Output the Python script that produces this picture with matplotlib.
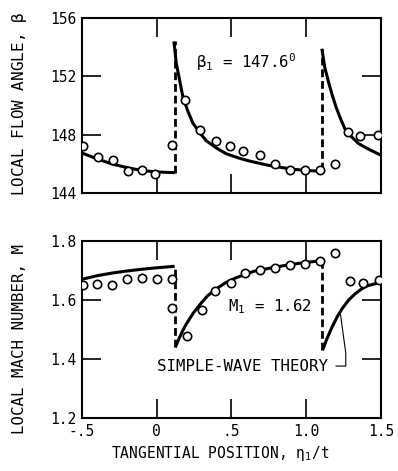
import matplotlib
matplotlib.use("Agg")
import matplotlib.pyplot as plt

# measured flow angle (deg) vs tangential position
beta_x = [-0.49, -0.39, -0.29, -0.19, -0.10, -0.01, 0.10, 0.19, 0.29, 0.40,
          0.49, 0.58, 0.69, 0.79, 0.89, 0.99, 1.09, 1.19, 1.28, 1.36, 1.48]
beta_y = [147.2, 146.5, 146.3, 145.5, 145.6, 145.3, 147.3, 150.4, 148.3, 147.6,
          147.2, 146.9, 146.6, 146.0, 145.6, 145.6, 145.6, 146.0, 148.2, 147.9, 148.0]

# simple-wave theory, flow angle
beta_th1_x = [-0.5, -0.4, -0.3, -0.2, -0.1, 0.0, 0.12]
beta_th1_y = [146.75, 146.35, 146.0, 145.75, 145.55, 145.45, 145.4]
beta_th2_x = [0.115, 0.131, 0.153, 0.175, 0.209, 0.242, 0.287, 0.331, 0.398, 0.465,
              0.55, 0.62, 0.75, 0.9, 1.0, 1.1]
beta_th2_y = [154.4, 152.9, 151.75, 150.6, 149.6, 148.8, 148.15, 147.6, 147.1, 146.7,
              146.4, 146.2, 145.9, 145.65, 145.55, 145.5]
beta_th3_x = [1.105, 1.125, 1.15, 1.175, 1.2, 1.23, 1.26, 1.3, 1.35, 1.42, 1.5]
beta_th3_y = [153.9, 152.6, 151.6, 150.7, 149.9, 149.1, 148.4, 147.9, 147.4, 147.0, 146.6]
beta_jump_x = [0.12, 1.105]
beta_jump_lo = [145.4, 145.6]
beta_jump_hi = [154.4, 153.9]

# measured Mach number
mach_x = [-0.49, -0.40, -0.30, -0.20, -0.10, 0.0, 0.10, 0.10, 0.20, 0.30, 0.39,
          0.50, 0.59, 0.69, 0.79, 0.89, 0.99, 1.09, 1.19, 1.29, 1.38, 1.49]
mach_y = [1.651, 1.654, 1.649, 1.670, 1.673, 1.670, 1.672, 1.573, 1.478, 1.565, 1.632,
          1.658, 1.692, 1.702, 1.707, 1.719, 1.722, 1.732, 1.758, 1.665, 1.659, 1.668]

# simple-wave theory, Mach number
mach_th1_x = [-0.5, -0.4, -0.3, -0.2, -0.1, 0.0, 0.12]
mach_th1_y = [1.670, 1.682, 1.691, 1.698, 1.704, 1.709, 1.714]
mach_th2_x = [0.125, 0.15, 0.175, 0.2, 0.245, 0.29, 0.34, 0.4, 0.46, 0.53, 0.65, 0.8, 0.95, 1.1]
mach_th2_y = [1.44, 1.47, 1.497, 1.52, 1.556, 1.585, 1.614, 1.638, 1.658, 1.675, 1.697, 1.712, 1.724, 1.733]
mach_th3_x = [1.11, 1.14, 1.175, 1.21, 1.24, 1.285, 1.33, 1.37, 1.41, 1.5]
mach_th3_y = [1.43, 1.47, 1.51, 1.545, 1.57, 1.6, 1.622, 1.637, 1.648, 1.66]
mach_jump_x = [0.12, 1.108]
mach_jump_lo = [1.44, 1.43]
mach_jump_hi = [1.714, 1.733]

x_ticks = [-0.5, 0, 0.5, 1.0, 1.5]
x_ticklabels = ['-.5', '0', '.5', '1.0', '1.5']
beta_ticks = [144, 148, 152, 156]
mach_ticks = [1.2, 1.4, 1.6, 1.8]
mach_ticklabels = ['1.2', '1.4', '1.6', '1.8']

plt.rcParams['font.family'] = ['DejaVu Sans Mono', 'DejaVu Sans']
plt.rcParams['mathtext.fontset'] = 'custom'
plt.rcParams['mathtext.rm'] = 'DejaVu Sans Mono'
plt.rcParams['mathtext.it'] = 'DejaVu Sans Mono'

fig = plt.figure(figsize=(3.98, 4.71), dpi=100)
ax1 = fig.add_axes([0.206, 0.590, 0.751, 0.3716])
ax2 = fig.add_axes([0.206, 0.1125, 0.751, 0.376])

mk = dict(marker='o', ms=6, mfc='white', mec='black', mew=1.2, ls='none', zorder=3)
th = dict(color='black', lw=2.2, solid_capstyle='butt')
dash = dict(color='black', lw=2.0, ls=(0, (2.8, 1.4)))

# top panel
for xs, ys in [(beta_th1_x, beta_th1_y), (beta_th2_x, beta_th2_y), (beta_th3_x, beta_th3_y)]:
    ax1.plot(xs, ys, **th)
for x, lo, hi in zip(beta_jump_x, beta_jump_lo, beta_jump_hi):
    ax1.plot([x, x], [lo, hi], **dash)
ax1.plot(beta_x, beta_y, **mk)
ax1.text(0.265, 153.0, r'$\beta_1$ = 147.6$^0$', fontsize=11.3, va='center', ha='left')

# bottom panel
for xs, ys in [(mach_th1_x, mach_th1_y), (mach_th2_x, mach_th2_y), (mach_th3_x, mach_th3_y)]:
    ax2.plot(xs, ys, **th)
for x, lo, hi in zip(mach_jump_x, mach_jump_lo, mach_jump_hi):
    ax2.plot([x, x], [lo, hi], **dash)
ax2.plot(mach_x, mach_y, **mk)
ax2.text(1.04, 1.576, r'M$_1$ = 1.62', fontsize=11.3, va='center', ha='right')
ax2.text(0.005, 1.376, 'SIMPLE-WAVE THEORY', fontsize=11.3, va='center', ha='left')
ax2.plot([1.20, 1.265, 1.265, 1.23], [1.376, 1.376, 1.42, 1.55], color='black', lw=0.8)

for ax in (ax1, ax2):
    ax.set_xlim(-0.5, 1.5)
    ax.set_xticks(x_ticks)
    ax.tick_params(direction='in', length=14, width=1.2, top=True, right=True,
                   labelsize=10.5, pad=4)
    for sp in ax.spines.values():
        sp.set_linewidth(1.5)

ax1.set_ylim(144, 156)
ax1.set_yticks(beta_ticks)
ax1.set_xticklabels([])
ax2.set_ylim(1.2, 1.8)
ax2.set_yticks(mach_ticks)
ax2.set_yticklabels(mach_ticklabels)
ax2.set_xticklabels(x_ticklabels)

fig.text(0.05, 0.780, 'LOCAL FLOW ANGLE, $\\beta$', rotation=90, fontsize=11.5,
         ha='center', va='center')
fig.text(0.05, 0.280, 'LOCAL MACH NUMBER, M', rotation=90, fontsize=11.3,
         ha='center', va='center')
fig.text(0.553, 0.038, 'TANGENTIAL POSITION, $\\eta_1$/t', fontsize=10.5,
         ha='center', va='center')

fig.savefig('out.png', dpi=100)
